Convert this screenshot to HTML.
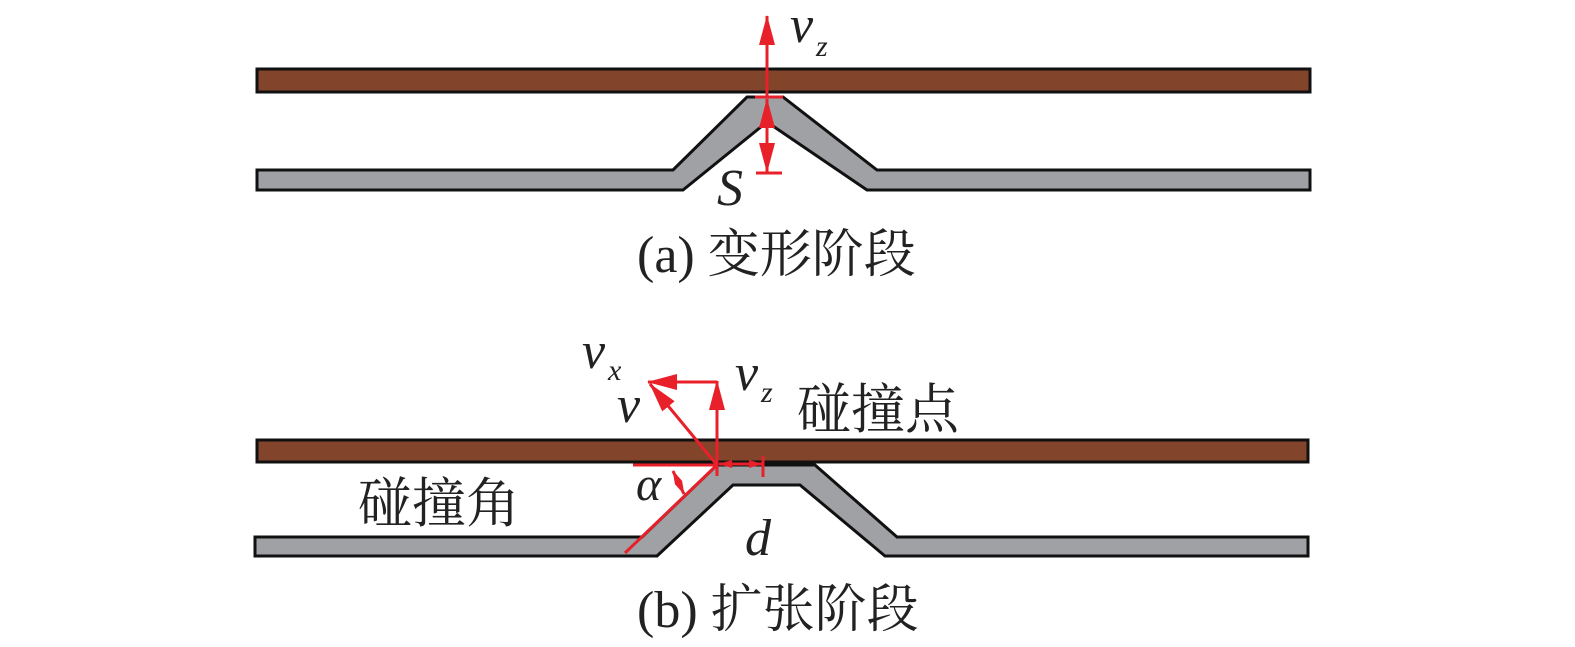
<!DOCTYPE html>
<html><head><meta charset="utf-8"><style>
html,body{margin:0;padding:0;background:#fff;}
svg{display:block}
.t{font-family:"Liberation Serif","Noto Serif CJK SC",serif;fill:#222;}
.i{font-family:"Liberation Serif",serif;font-style:italic;fill:#222;}
</style></head><body>
<svg width="1575" height="647" viewBox="0 0 1575 647" xmlns="http://www.w3.org/2000/svg">
<defs>
<marker id="big" viewBox="0 0 30 16" refX="29" refY="8" markerWidth="30" markerHeight="16" orient="auto-start-reverse" markerUnits="userSpaceOnUse">
<path d="M0,0 L30,8 L0,16 z" fill="#e8202a"/></marker>
<marker id="sm" viewBox="0 0 14 8" refX="13" refY="4" markerWidth="14" markerHeight="8" orient="auto-start-reverse" markerUnits="userSpaceOnUse">
<path d="M0,0 L14,4 L0,8 z" fill="#e8202a"/></marker>
</defs>
<!-- (a) -->
<rect x="257" y="69" width="1053" height="23" fill="#82442a" stroke="#111" stroke-width="3"/>
<polygon points="257,170 673,170 747,97 783,97 877,170 1310,170 1310,190 867,190 767,122 683,190 257,190" fill="#a0a1a5" stroke="#111" stroke-width="3"/>
<g stroke="#e8202a" stroke-width="3" fill="none">
<line x1="767" y1="97" x2="767" y2="16" marker-end="url(#big)"/>
<line x1="755" y1="97" x2="783" y2="97"/>
<line x1="767" y1="99" x2="767" y2="172" marker-start="url(#big)" marker-end="url(#big)"/>
<line x1="756" y1="173" x2="782" y2="173"/>
</g>
<text class="i" x="790" y="42" font-size="52">v</text>
<text class="i" x="816" y="56" font-size="30">z</text>
<text class="i" x="717" y="205" font-size="52">S</text>
<text class="t" x="637" y="272" font-size="52">(a) 变形阶段</text>
<!-- (b) -->
<rect x="257" y="440" width="1051" height="22" fill="#82442a" stroke="#111" stroke-width="3"/>
<polygon points="255,537 642,537 717,465 815,465 897,537 1308,537 1308,556 885,556 800,485 733,485 657,556 255,556" fill="#a0a1a5" stroke="#111" stroke-width="3"/>
<g stroke="#e8202a" stroke-width="3" fill="none">
<line x1="717" y1="465" x2="717" y2="381" marker-end="url(#big)"/>
<line x1="717" y1="382" x2="648" y2="382" marker-end="url(#big)"/>
<line x1="717" y1="465" x2="650" y2="384" marker-end="url(#big)"/>
<line x1="625" y1="553" x2="717" y2="465"/>
<line x1="633" y1="465" x2="717" y2="465"/>
<line x1="717" y1="465" x2="717" y2="476"/>
<line x1="719" y1="464" x2="762" y2="464" marker-start="url(#sm)" marker-end="url(#sm)"/>
<line x1="763" y1="456" x2="763" y2="477"/>
<line x1="673" y1="471" x2="684" y2="494" marker-start="url(#sm)" marker-end="url(#sm)"/>
</g>
<text class="i" x="582" y="368" font-size="52">v</text>
<text class="i" x="608" y="380" font-size="30">x</text>
<text class="i" x="735" y="390" font-size="52">v</text>
<text class="i" x="761" y="402" font-size="30">z</text>
<text class="i" x="617" y="422" font-size="52">v</text>
<text class="t" x="797" y="428" font-size="54">碰撞点</text>
<text class="t" x="358" y="522" font-size="54">碰撞角</text>
<text class="i" x="636" y="500" font-size="48">α</text>
<text class="i" x="745" y="555" font-size="52">d</text>
<text class="t" x="637" y="627" font-size="52">(b) 扩张阶段</text>
</svg>
</body></html>
